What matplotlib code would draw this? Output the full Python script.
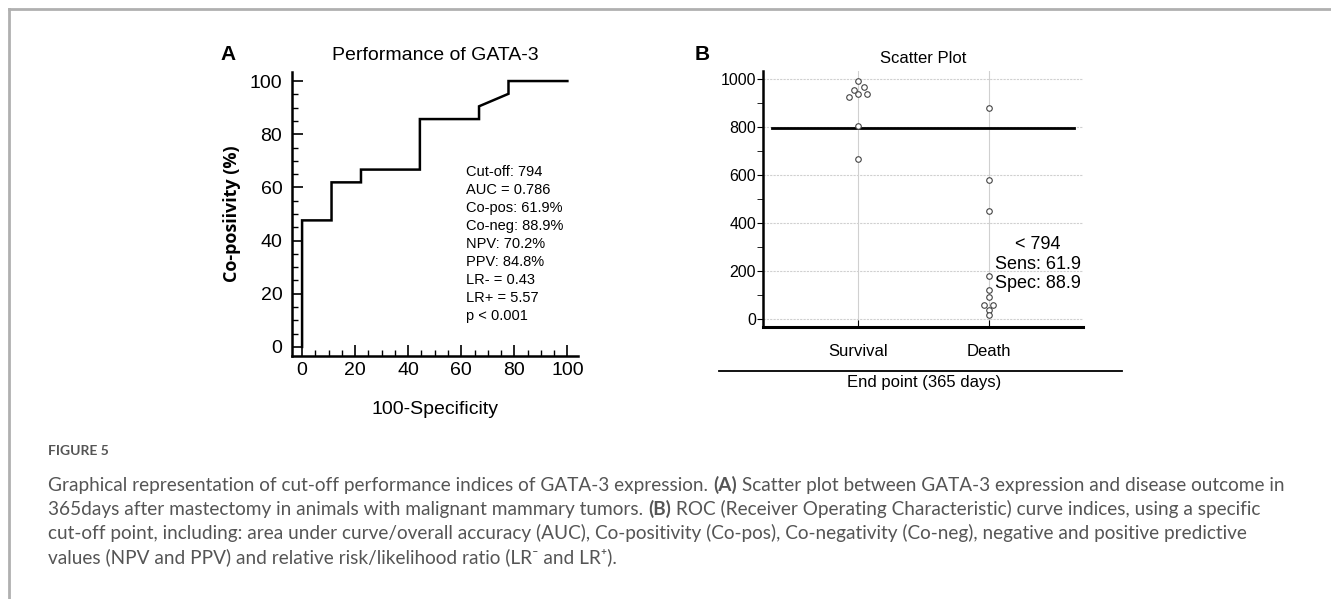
import matplotlib
matplotlib.use("Agg")
import matplotlib.pyplot as plt
from matplotlib.lines import Line2D
from matplotlib.ticker import MultipleLocator

# ROC curve (panel A)
roc_fpr = [0, 0, 11.1, 11.1, 22.2, 22.2, 44.4, 44.4, 66.7, 66.7, 77.8, 77.8, 100]
roc_tpr = [0, 47.6, 47.6, 61.9, 61.9, 66.7, 66.7, 85.7, 85.7, 90.5, 95.2, 100, 100]
stats_lines = ["Cut-off: 794", "AUC = 0.786", "Co-pos: 61.9%", "Co-neg: 88.9%",
               "NPV: 70.2%", "PPV: 84.8%", "LR- = 0.43", "LR+ = 5.57", "p < 0.001"]

# scatter (panel B)
groups = ["Survival", "Death"]
surv_vals = [992, 965, 953, 936, 936, 925, 804, 666]
surv_off = [0, 0.05, -0.03, 0, 0.07, -0.07, 0, 0]
death_vals = [879, 580, 451, 178, 121, 93, 58, 58, 37, 19]
death_off = [0, 0, 0, 0, 0, 0, -0.035, 0.035, 0, 0]
cutoff = 794
cut_text = ["< 794", "Sens: 61.9", "Spec: 88.9"]

caption_title = "FIGURE 5"
caption = [
    [("Graphical representation of cut-off performance indices of GATA-3 expression. ", "normal"),
     ("(A)", "bold"),
     (" Scatter plot between GATA-3 expression and disease outcome in", "normal")],
    [("365days after mastectomy in animals with malignant mammary tumors. ", "normal"),
     ("(B)", "bold"),
     (" ROC (Receiver Operating Characteristic) curve indices, using a specific", "normal")],
    [("cut-off point, including: area under curve/overall accuracy (AUC), Co-positivity (Co-pos), "
      "Co-negativity (Co-neg), negative and positive predictive", "normal")],
    [("values (NPV and PPV) and relative risk/likelihood ratio (LR\u207b and LR\u207a).", "normal")],
]

W, H = 1331, 599
plt.rcParams['font.family'] = ['Liberation Sans', 'DejaVu Sans']
fig = plt.figure(figsize=(W / 100, H / 100), dpi=100)

def fx(px):
    return px / W

def fy(py):
    return 1 - py / H

# frame lines of the page
fig.add_artist(Line2D([fx(9), 1], [fy(9), fy(9)], color="#b0b0b0", lw=2))
fig.add_artist(Line2D([fx(9), fx(9)], [fy(9), 0], color="#b0b0b0", lw=2))

# ---------- panel A ----------
axA = fig.add_axes([fx(292), fy(356), fx(578) - fx(292), fy(72) - fy(356)])
axA.plot(roc_fpr, roc_tpr, color="black", lw=1.8, solid_joinstyle="miter")
axA.set_xlim(-3.8, 104)
axA.set_ylim(-3.4, 103.4)
for s in ["top", "right"]:
    axA.spines[s].set_visible(False)
for s in ["left", "bottom"]:
    axA.spines[s].set_linewidth(1.8)
axA.xaxis.set_major_locator(MultipleLocator(20))
axA.xaxis.set_minor_locator(MultipleLocator(5))
axA.yaxis.set_major_locator(MultipleLocator(20))
axA.yaxis.set_minor_locator(MultipleLocator(5))
axA.tick_params(which="major", direction="in", length=8, width=1.2, labelsize=14, pad=7)
axA.tick_params(axis="x", which="major", pad=4)
axA.tick_params(which="minor", direction="in", length=4, width=1)
axA.set_title("Performance of GATA-3", fontsize=14, pad=9)
axA.set_xlabel("100-Specificity", fontsize=14, labelpad=16)
axA.set_ylabel("Co-posiivity (%)", fontsize=13, fontweight="bold",
               family=["Open Sans", "DejaVu Sans"], labelpad=6)
for i, line in enumerate(stats_lines):
    fig.text(fx(466), fy(172 + i * 18), line, fontsize=10.5, va="center", ha="left")
fig.text(fx(228), fy(54), "A", fontsize=15, fontweight="bold", ha="center", va="center")

# ---------- panel B ----------
axB = fig.add_axes([fx(763), fy(327), fx(1083) - fx(763), fy(71) - fy(327)])
xpos = [1, 2]
axB.set_xlim(0.275, 2.72)
axB.set_ylim(-33, 1033)
for v in [0, 200, 400, 600, 800, 1000]:
    axB.axhline(v, color="#d0d0d0", lw=0.8, ls=(0, (2, 1)), zorder=0)
for x in xpos:
    axB.axvline(x, color="#d0d0d0", lw=0.8, zorder=0)
axB.scatter([xpos[0] + o for o in surv_off], surv_vals, s=16, facecolor="white",
            edgecolor="#444444", lw=0.8, zorder=3)
axB.scatter([xpos[1] + o for o in death_off], death_vals, s=16, facecolor="white",
            edgecolor="#444444", lw=0.8, zorder=3)
axB.plot([0.343, 2.65], [cutoff, cutoff], color="black", lw=2, zorder=2)
for s in ["top", "right"]:
    axB.spines[s].set_visible(False)
axB.spines["left"].set_linewidth(1.8)
axB.spines["bottom"].set_linewidth(2.2)
axB.set_xticks(xpos)
axB.set_xticklabels(groups, fontsize=12)
axB.yaxis.set_major_locator(MultipleLocator(200))
axB.yaxis.set_minor_locator(MultipleLocator(100))
axB.tick_params(axis="y", which="major", direction="out", length=4, labelsize=11.5, pad=1)
axB.tick_params(axis="y", which="minor", direction="out", length=4)
axB.tick_params(axis="x", direction="in", length=5, pad=12)
axB.set_title("Scatter Plot", fontsize=12, pad=6)
for i, line in enumerate(cut_text):
    fig.text(fx(1038), fy(245 + i * 19.5), line, fontsize=13, ha="center", va="center")
fig.text(fx(702), fy(55), "B", fontsize=15, fontweight="bold", ha="center", va="center")
fig.add_artist(Line2D([fx(719), fx(1122)], [fy(371), fy(371)], color="black", lw=1.3))
fig.text(fx(924), fy(383), "End point (365 days)", fontsize=12, ha="center", va="center")

# ---------- caption ----------
cap_font = ["Lato", "DejaVu Sans"]
cap_col = "#555555"
fig.text(fx(48), fy(451), caption_title, fontsize=10, fontweight="bold", color=cap_col,
         family=cap_font, va="center")
renderer = fig.canvas.get_renderer()
for i, parts in enumerate(caption):
    x = fx(48)
    y = fy(485 + i * 24)
    for txt, wt in parts:
        t = fig.text(x, y, txt, fontsize=13.7, fontweight=wt, color=cap_col,
                     family=cap_font, va="center")
        bb = t.get_window_extent(renderer)
        x = bb.x1 / W

fig.savefig("out.png", dpi=100)
